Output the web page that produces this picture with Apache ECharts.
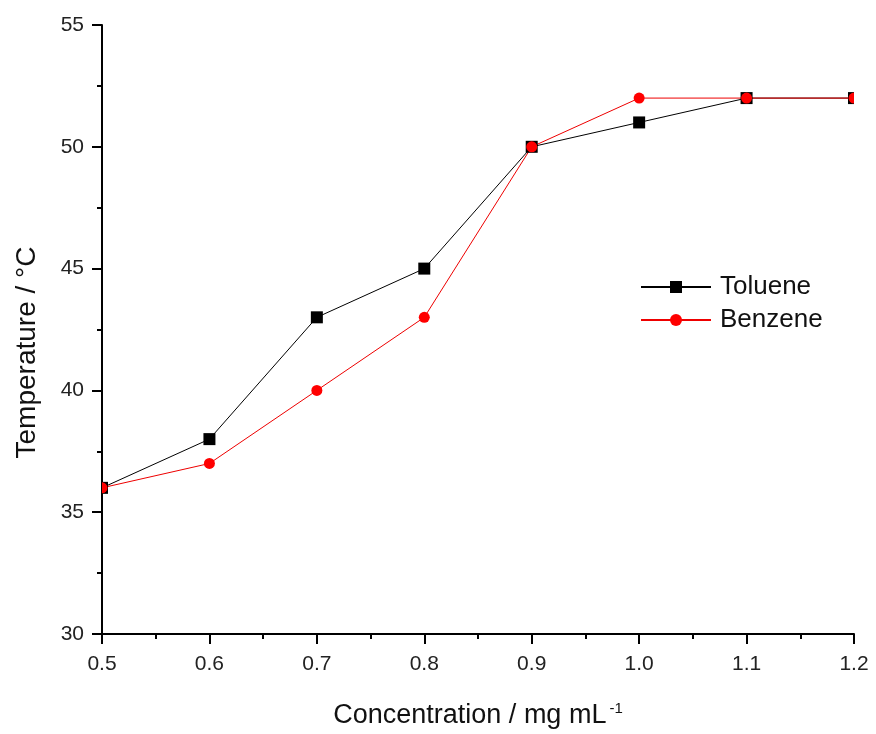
<!DOCTYPE html>
<html>
<head>
<meta charset="utf-8">
<script src="https://cdn.jsdelivr.net/npm/echarts@6/dist/echarts.min.js"></script>
<style>
  html, body { margin: 0; padding: 0; background: #fff; }
  #chart { width: 876px; height: 734px; }
</style>
</head>
<body>
<div id="chart"></div>
<script>
// Gelation temperature against concentration for two solvents
const concentration = [0.5, 0.6, 0.7, 0.8, 0.9, 1.0, 1.1, 1.2];
const toluene = [36, 38, 43, 45, 50, 51, 52, 52];
const benzene = [36, 37, 40, 43, 50, 52, 52, 52];
const xTicks = [0.5, 0.6, 0.7, 0.8, 0.9, 1.0, 1.1, 1.2];
const yTicks = [30, 35, 40, 45, 50, 55];

const font = 'Liberation Sans, Arial, sans-serif';
const pairs = (xs, ys) => xs.map((x, i) => [x, ys[i]]);

// Markers are drawn by a custom series so they are clipped at the plot frame
function markerSeries(values, shape, color, size, z) {
  return {
    type: 'custom',
    clip: true,
    silent: true,
    z: z,
    data: pairs(concentration, values),
    encode: { x: 0, y: 1 },
    renderItem: function (params, api) {
      const p = api.coord([api.value(0), api.value(1)]);
      if (shape === 'rect') {
        return {
          type: 'rect',
          shape: { x: p[0] - size / 2, y: p[1] - size / 2, width: size, height: size },
          style: { fill: color }
        };
      }
      return {
        type: 'circle',
        shape: { cx: p[0], cy: p[1], r: size / 2 },
        style: { fill: color }
      };
    }
  };
}

const chart = echarts.init(document.getElementById('chart'));
chart.setOption({
  animation: false,
  backgroundColor: '#fff',
  grid: { left: 102, top: 25, right: 22, bottom: 98, containLabel: false },
  legend: {
    left: 635, top: 269,
    orient: 'vertical',
    itemGap: 7,
    itemWidth: 70, itemHeight: 15,
    textStyle: { fontFamily: font, fontSize: 26, color: '#111', padding: [0, 0, 0, 4] },
    data: ['Toluene', 'Benzene']
  },
  xAxis: {
    type: 'value',
    min: xTicks[0], max: xTicks[xTicks.length - 1], interval: 0.1,
    name: '{a|Concentration / mg mL}{s|-1}',
    nameLocation: 'middle', nameGap: 67,
    nameTextStyle: {
      rich: {
        a: { fontFamily: font, fontSize: 27, color: '#111' },
        s: { fontFamily: font, fontSize: 15, color: '#111', verticalAlign: 'top', padding: [0, 0, 14, 3] }
      }
    },
    axisLine: { lineStyle: { color: '#000', width: 2 } },
    axisTick: { inside: false, length: 10, lineStyle: { color: '#000', width: 2 } },
    minorTick: { show: true, splitNumber: 2, length: 5, lineStyle: { color: '#000', width: 2 } },
    axisLabel: { fontFamily: font, fontSize: 21, color: '#222', margin: 20, formatter: v => v.toFixed(1) },
    splitLine: { show: false }
  },
  yAxis: {
    type: 'value',
    min: yTicks[0], max: yTicks[yTicks.length - 1], interval: 5,
    name: 'Temperature / °C',
    nameLocation: 'middle', nameGap: 61,
    nameTextStyle: { fontFamily: font, fontSize: 28, color: '#111', padding: [0, 46, 0, 0] },
    axisLine: { show: true, lineStyle: { color: '#000', width: 2 } },
    axisTick: { show: true, inside: false, length: 10, lineStyle: { color: '#000', width: 2 } },
    minorTick: { show: true, splitNumber: 2, length: 5, lineStyle: { color: '#000', width: 2 } },
    axisLabel: { fontFamily: font, fontSize: 21, color: '#222', margin: 18 },
    splitLine: { show: false }
  },
  series: [
    {
      name: 'Toluene', type: 'line',
      data: pairs(concentration, toluene),
      symbol: 'rect', showSymbol: false,
      itemStyle: { color: '#000' },
      lineStyle: { color: '#000', width: 1 },
      z: 2
    },
    {
      name: 'Benzene', type: 'line',
      data: pairs(concentration, benzene),
      symbol: 'circle', showSymbol: false,
      itemStyle: { color: '#f00' },
      lineStyle: { color: '#e00', width: 1 },
      z: 2
    },
    markerSeries(toluene, 'rect', '#000', 12, 3),
    markerSeries(benzene, 'circle', '#f00', 11, 4)
  ]
});
</script>
</body>
</html>
